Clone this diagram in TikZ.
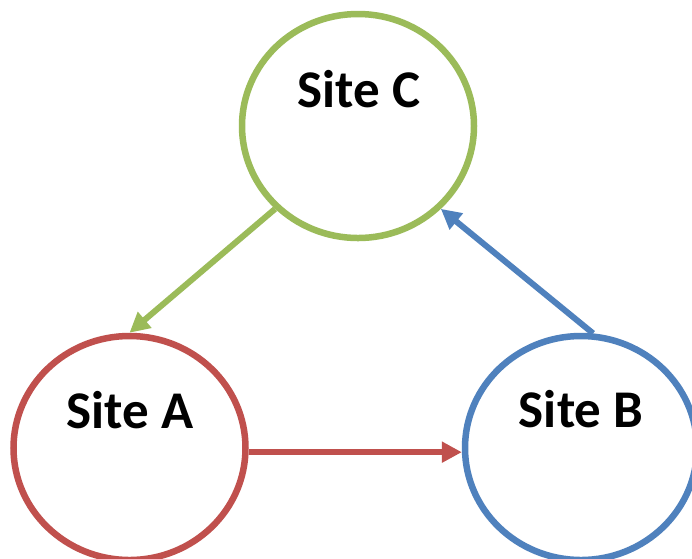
\documentclass[tikz,border=0pt]{standalone}
\usepackage{fontspec}
\setmainfont{Carlito}
\usetikzlibrary{shapes.geometric,arrows.meta}
\definecolor{ogreen}{HTML}{9BBB59}
\definecolor{ored}{HTML}{C0504D}
\definecolor{oblue}{HTML}{4F81BD}
\tikzset{
  site/.style={ellipse, draw=#1, line width=6.5pt, minimum width=232pt, minimum height=224pt, inner sep=0pt, fill=white},
  sitelabel/.style={anchor=base, font=\fontsize{53}{62}\selectfont\bfseries, inner sep=0pt},
  conn/.style={draw=#1, line width=6pt, -{Triangle[length=20pt,width=20pt]}}
}
\begin{document}
\begin{tikzpicture}[x=1pt,y=-1pt]
\useasboundingbox[fill=white] (0,0) rectangle (692,558);
\node[site=ogreen] (C) at (358,126) {};
\node[site=ored] (A) at (129.5,448) {};
\node[site=oblue] (B) at (581,448) {};
\node[sitelabel] (lC) at (359,107) {Site C};
\node[sitelabel] (lA) at (130,428) {Site A};
\node[sitelabel] (lB) at (581,427) {Site B};
\draw[conn=ogreen] (C.225) -- (A.north);
\draw[conn=oblue] (B.84) -- (C.315);
\draw[conn=ored] (A.-2) -- (B.182);
\end{tikzpicture}
\end{document}
